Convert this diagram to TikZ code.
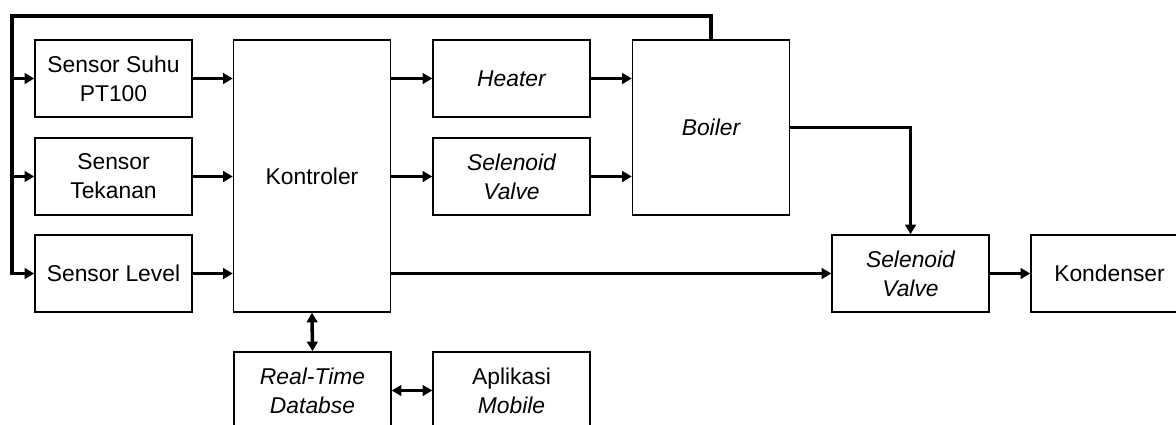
\documentclass[tikz,border=0pt]{standalone}
\usepackage{fontspec}
\setmainfont{Liberation Sans}
\usetikzlibrary{arrows.meta,positioning}

\begin{document}
\begin{tikzpicture}[x=0.02cm,y=-0.02cm,
 blok/.style={draw,line width=0.8pt,minimum width=3.14cm,minimum height=1.54cm,
 align=center,inner sep=0pt,font=\fontsize{13}{16.5}\selectfont},
 aliran/.style={line width=2pt,-{Triangle[length=5.5pt,width=6pt]}},
 dua/.style={line width=2pt,{Triangle[length=5.5pt,width=6pt]}-{Triangle[length=5.5pt,width=6pt]}}]
\useasboundingbox (0,0) rectangle (1176,424);
\node[blok] (suhu) at (113.5,78.5) {Sensor Suhu\\PT100};
\node[blok] (tekanan) at (113.5,176.5) {Sensor\\Tekanan};
\node[blok] (level) at (113.5,273.5) {Sensor Level};
\node[blok,minimum height=5.44cm] (kontroler) at (312,176) {Kontroler};
\node[blok] (heater) at (511.5,78.5) {\itshape Heater};
\node[blok] (sv1) at (511.5,176.5) {\itshape Selenoid\\\itshape Valve};
\node[blok,minimum height=3.5cm] (boiler) at (711,127.5) {\itshape Boiler};
\node[blok] (sv2) at (910.5,273.5) {\itshape Selenoid\\\itshape Valve};
\node[blok] (kondenser) at (1109.5,273.5) {Kondenser};
\node[blok] (rtdb) at (312.5,390.5) {\itshape Real-Time\\\itshape Databse};
\node[blok] (aplikasi) at (511.5,390.5) {Aplikasi\\\itshape Mobile};
\coordinate (balik) at (12,16);
% umpan balik dari boiler
\draw[aliran] (boiler.north) |- (balik) |- (level.west);
\foreach \s in {suhu,tekanan} \draw[aliran] (balik |- \s.west) -- (\s.west);
\foreach \s in {suhu,tekanan,level} \draw[aliran] (\s.east) -- (kontroler.west |- \s.east);
\foreach \s in {heater,sv1,sv2} \draw[aliran] (kontroler.east |- \s.west) -- (\s.west);
\foreach \s in {heater,sv1} \draw[aliran] (\s.east) -- (boiler.west |- \s.east);
\draw[aliran] (boiler.east) -| (sv2.north);
\draw[aliran] (sv2.east) -- (kondenser.west);
\draw[dua] (kontroler.south) -- (rtdb.north);
\draw[dua] (rtdb.east) -- (aplikasi.west);
\end{tikzpicture}
\end{document}
